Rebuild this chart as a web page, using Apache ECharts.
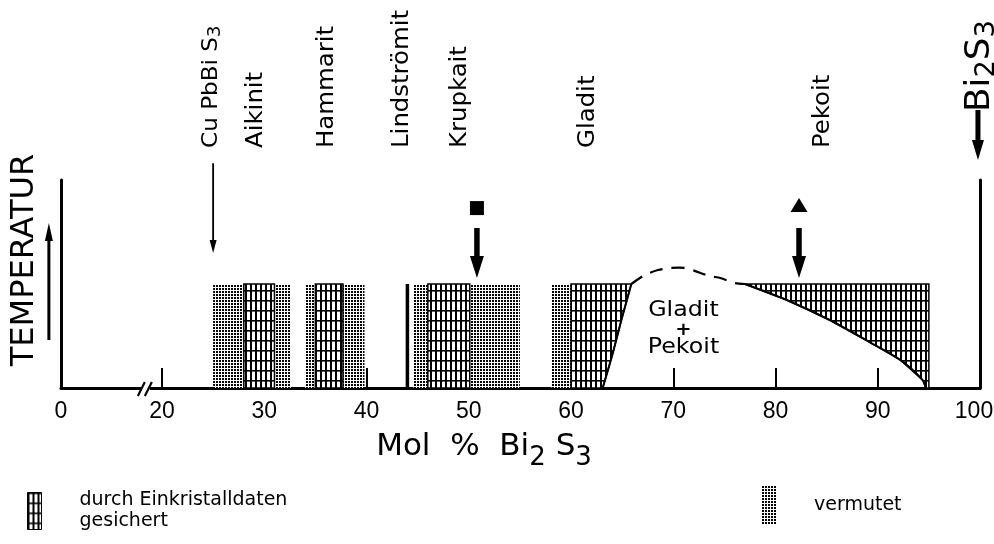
<!DOCTYPE html>
<html>
<head>
<meta charset="utf-8">
<script src="https://cdn.jsdelivr.net/npm/echarts@6/dist/echarts.min.js"></script>
<style>
  html, body { margin: 0; padding: 0; background: #fff; }
  #chart { width: 994px; height: 544px; }
</style>
</head>
<body>
<div id="chart"></div>
<script>
// ---- Data (x: mol % Bi2S3, y: temperature in arbitrary units) ----
const xMin = 20, xMax = 100, xStep = 10;   // main axis segment after the break
const levelTop = 50;                        // temperature level of the phase fields

// phases confirmed by single-crystal data (rectangular fields)
const confirmedStart = [28, 35, 46];
const confirmedEnd   = [31, 37.7, 50.1];
// presumed extent of the phase fields
const presumedStart = [25, 31, 34, 37.7, 44.6, 50.1, 58.1];
const presumedEnd   = [28, 32.6, 35, 39.8, 46, 55, 60];
// Lindströmit: line phase
const lineCompoundX = [44];

// Gladit field: left edge and curved Bi-rich boundary
const gladitLeft = 60;
const gladitBoundary = [[63.1, 0], [64.1, 17], [65.0, 34], [65.9, 50]];
// Pekoit field: curved Bi-poor boundary and right edge
const pekoitRight = 95;
const pekoitBoundary = [[77, 50], [81.1, 42.3], [85.3, 32.7], [89.2, 22.1], [92.2, 13.5], [94.4, 3.8], [94.7, 0]];
// presumed top of the Gladit + Pekoit two-phase field
const gapDashed = [[65.9, 50], [67.2, 54.3], [68.5, 56.7], [69.7, 57.7], [71.2, 57.7],
                   [72.1, 56.3], [73.6, 53.8], [74.6, 52.9], [76.0, 50.5], [77, 50]];

// mineral names written above the fields
const mineralNames = ['Aikinit', 'Hammarit', 'Lindströmit', 'Krupkait', 'Gladit', 'Pekoit'];
const mineralLabelX = [29.2, 36.1, 43.5, 49.1, 61.7, 84.6];
// end members / reference compositions
const endMemberNames = ['Cu PbBi S{s|3}', 'Bi{s|2}S{s|3}'];
const endMemberX = [24.8, 100];

// downward arrows: composition, start level, tip level
const arrowX    = [25, 99.8, 50.8, 82.3];
const arrowFrom = [108, 133.7, 76.9, 76.9];
const arrowTo   = [64.9, 109.6, 52.9, 52.9];

// sample markers
const markerX = [50.8, 82.3];
const markerY = [86.5, 88];

const twoPhaseLabel = ['Gladit', '+', 'Pekoit'];
const twoPhaseX = 71;
const twoPhaseY = [37.5, 27.9, 19.7];

const confirmedName = 'durch Einkristalldaten\ngesichert';
const presumedName = 'vermutet';

// ---- Fill patterns ----
function makeGridPattern() {
  const c = document.createElement('canvas');
  c.width = 5; c.height = 10;
  const g = c.getContext('2d');
  g.fillStyle = '#fff'; g.fillRect(0, 0, 5, 10);
  g.fillStyle = '#000'; g.fillRect(0, 0, 2, 10); g.fillRect(0, 0, 5, 1.6);
  return { image: c, repeat: 'repeat' };
}
function makeDotPattern() {
  const c = document.createElement('canvas');
  c.width = 3; c.height = 3;
  const g = c.getContext('2d');
  g.fillStyle = '#fff'; g.fillRect(0, 0, 3, 3);
  g.fillStyle = '#000'; g.fillRect(0, 0, 2, 2);
  return { image: c, repeat: 'repeat' };
}
const gridPat = makeGridPattern();
const dotPat = makeDotPattern();

const FONT = "'DejaVu Sans'";
const DIGITS = "'Liberation Sans', Arial, sans-serif";

function arrowPoints(a, b, w, hw, hl) {
  const dx = b[0] - a[0], dy = b[1] - a[1], L = Math.hypot(dx, dy);
  const ux = dx / L, uy = dy / L, nx = -uy, ny = ux;
  const bx = b[0] - ux * hl, by = b[1] - uy * hl;
  return [
    [a[0] + nx * w / 2, a[1] + ny * w / 2], [bx + nx * w / 2, by + ny * w / 2],
    [bx + nx * hw / 2, by + ny * hw / 2], [b[0], b[1]],
    [bx - nx * hw / 2, by - ny * hw / 2], [bx - nx * w / 2, by - ny * w / 2],
    [a[0] - nx * w / 2, a[1] - ny * w / 2]
  ];
}

const arrowSizes = [
  { w: 1.8, hw: 7, hl: 13 },
  { w: 5, hw: 12, hl: 20 },
  { w: 5.5, hw: 14, hl: 22 },
  { w: 5.5, hw: 14, hl: 22 }
];

const chart = echarts.init(document.getElementById('chart'));

const axisLineStyle = { color: '#000', width: 3 };
const tickLabel = {
  color: '#000', fontFamily: DIGITS, fontSize: 23, margin: 12,
  // keep the last label inside the canvas
  formatter: v => (v === xMax ? '{last|' + v + '}' : String(v)),
  rich: { last: { color: '#000', fontFamily: DIGITS, fontSize: 23, padding: [0, 12, 0, 0] } }
};

const option = {
  backgroundColor: '#fff',
  animation: false,
  grid: [
    { left: 61, top: 180, width: 101, height: 208, outerBoundsMode: 'none', containLabel: false },
    { left: 162, top: 180, width: 818, height: 208, outerBoundsMode: 'none', containLabel: false }
  ],
  xAxis: [
    {
      gridIndex: 0, type: 'value', min: 0, max: xMin, interval: xMin,
      axisLine: { lineStyle: axisLineStyle }, axisTick: { show: false },
      splitLine: { show: false },
      axisLabel: Object.assign({}, tickLabel, { showMaxLabel: false })
    },
    {
      gridIndex: 1, type: 'value', min: xMin, max: xMax, interval: xStep,
      axisLine: { onZero: false, lineStyle: axisLineStyle },
      axisTick: { inside: true, length: 20, lineStyle: { color: '#000', width: 2 } },
      splitLine: { show: false },
      axisLabel: tickLabel,
      name: 'Mol  %  Bi{s|2} S{s|3}',
      nameLocation: 'middle',
      nameGap: 35,
      nameTextStyle: {
        color: '#000', fontFamily: FONT, fontSize: 31, padding: [0, 174, 0, 0],
        rich: { s: { color: '#000', fontFamily: FONT, fontSize: 26, padding: [22, 0, 0, 0] } }
      }
    }
  ],
  yAxis: [
    {
      gridIndex: 0, type: 'value', min: 0, max: 100,
      axisLine: { show: true, lineStyle: axisLineStyle }, axisTick: { show: false },
      axisLabel: { show: false }, splitLine: { show: false },
      name: 'TEMPERATUR', nameLocation: 'middle', nameRotate: 90, nameGap: 20,
      nameTextStyle: { color: '#000', fontFamily: FONT, fontSize: 32, padding: [0, 0, 0, 48] }
    },
    {
      gridIndex: 1, type: 'value', min: 0, max: 100, position: 'right',
      axisLine: { show: true, onZero: false, lineStyle: axisLineStyle }, axisTick: { show: false },
      axisLabel: { show: false }, splitLine: { show: false }
    }
  ],
  legend: [
    {
      left: 27, top: 487, padding: 0, itemWidth: 14, itemHeight: 37, selectedMode: false,
      textStyle: { color: '#000', fontFamily: FONT, fontSize: 19, lineHeight: 21, padding: [6, 0, 0, 33] },
      data: [{ name: confirmedName, icon: 'rect',
               itemStyle: { color: gridPat, borderColor: '#000', borderWidth: 1 } }]
    },
    {
      left: 762, top: 486, padding: 0, itemWidth: 14, itemHeight: 39, selectedMode: false,
      textStyle: { color: '#000', fontFamily: FONT, fontSize: 19, padding: [14, 0, 0, 33] },
      data: [{ name: presumedName, icon: 'rect', itemStyle: { color: dotPat, borderWidth: 0 } }]
    }
  ],
  series: [
    // presumed extent (dotted)
    {
      type: 'custom', name: presumedName, xAxisIndex: 1, yAxisIndex: 1, clip: false, silent: true,
      itemStyle: { color: dotPat },
      data: presumedStart.map((s, i) => [s, presumedEnd[i], levelTop]),
      renderItem: (params, api) => {
        const p0 = api.coord([api.value(0), api.value(2)]);
        const p1 = api.coord([api.value(1), 0]);
        return { type: 'rect', shape: { x: p0[0], y: p0[1], width: p1[0] - p0[0], height: p1[1] - p0[1] },
                 style: { fill: dotPat } };
      }
    },
    // confirmed rectangular fields (grid hatching)
    {
      type: 'custom', name: confirmedName, xAxisIndex: 1, yAxisIndex: 1, clip: false, silent: true,
      itemStyle: { color: gridPat },
      data: confirmedStart.map((s, i) => [s, confirmedEnd[i], levelTop]),
      renderItem: (params, api) => {
        const p0 = api.coord([api.value(0), api.value(2)]);
        const p1 = api.coord([api.value(1), 0]);
        return { type: 'rect', shape: { x: p0[0], y: p0[1], width: p1[0] - p0[0], height: p1[1] - p0[1] },
                 style: { fill: gridPat, stroke: '#000', lineWidth: 1.5 } };
      }
    },
    // Gladit and Pekoit fields with curved boundaries
    {
      type: 'custom', name: confirmedName, xAxisIndex: 1, yAxisIndex: 1, clip: false, silent: true,
      itemStyle: { color: gridPat },
      data: [[gladitLeft, levelTop], [pekoitRight, levelTop]],
      renderItem: (params, api) => {
        const poly = params.dataIndex === 0
          ? [[gladitLeft, 0], [gladitLeft, levelTop]].concat(gladitBoundary.slice().reverse())
          : pekoitBoundary.concat([[pekoitRight, 0], [pekoitRight, levelTop]]);
        return { type: 'polygon', shape: { points: poly.map(p => api.coord(p)) },
                 style: { fill: gridPat, stroke: '#000', lineWidth: 1.5 } };
      }
    },
    // Lindströmit line phase
    {
      type: 'custom', name: 'Lindströmit', xAxisIndex: 1, yAxisIndex: 1, clip: false, silent: true,
      data: lineCompoundX.map(x => [x, levelTop]),
      renderItem: (params, api) => {
        const a = api.coord([api.value(0), 0]), b = api.coord([api.value(0), api.value(1)]);
        return { type: 'line', shape: { x1: a[0], y1: a[1], x2: b[0], y2: b[1] },
                 style: { stroke: '#000', lineWidth: 3.5 } };
      }
    },
    // phase boundaries
    {
      type: 'custom', name: 'Phasengrenzen', xAxisIndex: 1, yAxisIndex: 1, clip: false, silent: true,
      data: [[gladitBoundary[0][0], 0], [gapDashed[0][0], levelTop], [pekoitBoundary[0][0], levelTop]],
      renderItem: (params, api) => {
        const src = [gladitBoundary, gapDashed, pekoitBoundary][params.dataIndex];
        const style = params.dataIndex === 1
          ? { stroke: '#000', lineWidth: 2.2, lineDash: [13, 9], fill: null }
          : { stroke: '#000', lineWidth: 2, fill: null };
        return { type: 'polyline', shape: { points: src.map(p => api.coord(p)), smooth: 0.25 }, style };
      }
    },
    // arrows pointing to compositions
    {
      type: 'custom', name: 'Pfeile', xAxisIndex: 1, yAxisIndex: 1, clip: false, silent: true,
      data: arrowX.map((x, i) => [x, arrowFrom[i], arrowTo[i]]),
      renderItem: (params, api) => {
        const s = arrowSizes[params.dataIndex];
        const a = api.coord([api.value(0), api.value(1)]);
        const b = api.coord([api.value(0), api.value(2)]);
        return { type: 'polygon', shape: { points: arrowPoints(a, b, s.w, s.hw, s.hl) }, style: { fill: '#000' } };
      }
    },
    // sample markers
    {
      type: 'scatter', name: 'Probe', xAxisIndex: 1, yAxisIndex: 1, silent: true,
      data: markerX.map((x, i) => ({ value: [x, markerY[i]],
        symbol: i === 0 ? 'rect' : 'triangle', symbolSize: i === 0 ? 14 : [17, 14] })),
      itemStyle: { color: '#000', opacity: 1 }
    },
    // rotated mineral names
    {
      type: 'custom', name: 'Minerale', xAxisIndex: 1, yAxisIndex: 1, clip: false, silent: true,
      data: mineralLabelX.map(x => [x, 115.4]),
      renderItem: (params, api) => {
        const p = api.coord([api.value(0), api.value(1)]);
        return { type: 'text', x: p[0], y: p[1], rotation: Math.PI / 2, scaleX: 1.06,
                 style: { text: mineralNames[params.dataIndex], fontFamily: FONT, fontSize: 23,
                          fill: '#000', align: 'left', verticalAlign: 'middle' } };
      }
    },
    // end member formulas
    {
      type: 'custom', name: 'Endglieder', xAxisIndex: 1, yAxisIndex: 1, clip: false, silent: true,
      data: endMemberX.map((x, i) => [x, i === 0 ? 115.4 : 132.7]),
      renderItem: (params, api) => {
        const p = api.coord([api.value(0), api.value(1)]);
        const big = params.dataIndex === 1;
        return { type: 'text', x: p[0], y: p[1], rotation: Math.PI / 2, scaleX: 1.05,
                 style: { text: endMemberNames[params.dataIndex], fontFamily: FONT,
                          fontSize: big ? 34 : 22, fill: '#000', align: 'left', verticalAlign: 'middle',
                          rich: { s: { fontFamily: FONT, fontSize: big ? 26 : 17, fill: '#000',
                                       padding: [big ? 14 : 8, 0, 0, 0] } } } };
      }
    },
    // two-phase field label
    {
      type: 'custom', name: 'Zweiphasenfeld', xAxisIndex: 1, yAxisIndex: 1, clip: false, silent: true,
      data: twoPhaseY.map(y => [twoPhaseX, y]),
      renderItem: (params, api) => {
        const p = api.coord([api.value(0), api.value(1)]);
        const plus = params.dataIndex === 1;
        return { type: 'text', x: p[0], y: p[1], scaleX: 1.08,
                 style: { text: twoPhaseLabel[params.dataIndex], fontFamily: FONT,
                          fontSize: plus ? 18 : 22, fontWeight: plus ? 'bold' : 'normal',
                          fill: '#000', align: 'center', verticalAlign: 'middle' } };
      }
    },
    // temperature arrow beside the y axis title and the axis break mark
    {
      type: 'custom', name: 'Achse', xAxisIndex: 0, yAxisIndex: 0, clip: false, silent: true,
      data: [[-2.4, 23.1, 79.3], [16.8, 0, 0]],
      renderItem: (params, api) => {
        if (params.dataIndex === 0) {
          const a = api.coord([api.value(0), api.value(1)]);
          const b = api.coord([api.value(0), api.value(2)]);
          return { type: 'polygon', shape: { points: arrowPoints(a, b, 3, 8, 18) }, style: { fill: '#000' } };
        }
        const c = api.coord([api.value(0), api.value(1)]);
        return { type: 'group', children: [
          { type: 'rect', shape: { x: c[0] - 4, y: c[1] - 3, width: 8, height: 6 }, style: { fill: '#fff' } },
          { type: 'line', shape: { x1: c[0] - 8, y1: c[1] + 8, x2: c[0] - 1, y2: c[1] - 6 }, style: { stroke: '#000', lineWidth: 2.2 } },
          { type: 'line', shape: { x1: c[0] - 1, y1: c[1] + 8, x2: c[0] + 6, y2: c[1] - 6 }, style: { stroke: '#000', lineWidth: 2.2 } }
        ] };
      }
    }
  ]
};

chart.setOption(option);
</script>
</body>
</html>
